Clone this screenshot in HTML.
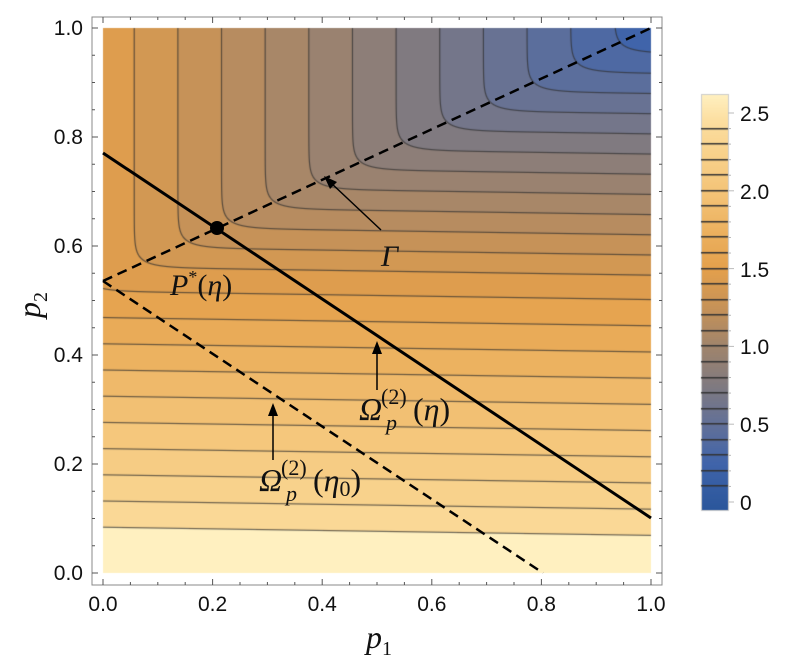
<!DOCTYPE html>
<html><head><meta charset="utf-8"><style>
body{margin:0;background:#fff;width:800px;height:672px;overflow:hidden;position:relative;font-family:"Liberation Sans",sans-serif}
canvas{position:absolute;left:0;top:0}
svg{position:absolute;left:0;top:0}
</style></head><body>
<canvas id="c" width="800" height="672"></canvas>
<svg width="800" height="672" xmlns="http://www.w3.org/2000/svg">
<g stroke="#888" fill="none" stroke-width="1">
<rect x="92" y="17" width="570" height="568"/>
</g>
<g id="ticks" stroke="#555" stroke-width="1"></g>
<g font-family="Liberation Sans, sans-serif" font-size="21" fill="#111">
<text x="103" y="611" text-anchor="middle">0.0</text>
<text x="212.6" y="611" text-anchor="middle">0.2</text>
<text x="322.2" y="611" text-anchor="middle">0.4</text>
<text x="431.8" y="611" text-anchor="middle">0.6</text>
<text x="541.4" y="611" text-anchor="middle">0.8</text>
<text x="651" y="611" text-anchor="middle">1.0</text>
<text x="83" y="580" text-anchor="end">0.0</text>
<text x="83" y="471" text-anchor="end">0.2</text>
<text x="83" y="362" text-anchor="end">0.4</text>
<text x="83" y="253" text-anchor="end">0.6</text>
<text x="83" y="144" text-anchor="end">0.8</text>
<text x="83" y="35" text-anchor="end">1.0</text>
<text x="740" y="121">2.5</text>
<text x="740" y="199">2.0</text>
<text x="740" y="277">1.5</text>
<text x="740" y="354">1.0</text>
<text x="740" y="432">0.5</text>
<text x="740" y="510">0</text>
</g>
<g font-family="Liberation Serif, serif" font-style="italic" fill="#111">
<text x="366" y="648" font-size="32">p<tspan font-size="20" dy="7" font-style="normal">1</tspan></text>
<text transform="translate(40,318) rotate(-90)" font-size="32">p<tspan font-size="20" dy="7" font-style="normal">2</tspan></text>
<text x="381" y="266" font-size="30">Γ</text>
<text x="170" y="295" font-size="30">P<tspan font-size="18" dy="-12" font-style="normal">*</tspan><tspan dy="12" font-style="normal">(</tspan>η<tspan font-style="normal">)</tspan></text>
<text x="359" y="420" font-size="32">Ω</text>
<text x="386" y="430" font-size="22">p</text>
<text x="381" y="404" font-size="22" font-style="normal">(2)</text>
<text x="413" y="420" font-size="32"><tspan font-style="normal">(</tspan>η<tspan font-style="normal">)</tspan></text>
<text x="259" y="491" font-size="32">Ω</text>
<text x="286" y="501" font-size="22">p</text>
<text x="281" y="475" font-size="22" font-style="normal">(2)</text>
<text x="313" y="491" font-size="32"><tspan font-style="normal">(</tspan>η<tspan font-size="22" dy="5" font-style="normal">0</tspan><tspan dy="-5" font-style="normal">)</tspan></text>
</g>
<g stroke="#000" fill="none">
<line x1="103" y1="153" x2="651" y2="518" stroke-width="3"/>
<line x1="103" y1="281" x2="651" y2="28" stroke-width="2.5" stroke-dasharray="10,6"/>
<line x1="103" y1="281" x2="543" y2="573" stroke-width="2.5" stroke-dasharray="10,6"/>
<line x1="377" y1="390" x2="377" y2="350" stroke-width="1.5"/>
<line x1="273" y1="460" x2="273" y2="412" stroke-width="1.5"/>
<line x1="381" y1="230" x2="330" y2="182" stroke-width="1.5"/>
</g>
<g fill="#000">
<polygon points="377,341 372,354 382,354"/>
<polygon points="273,403 268,416 278,416"/>
<polygon points="324,176 330,189 337,182"/>
<circle cx="217" cy="228" r="7"/>
</g>
</svg>
<script>
var X0=103,X1=651,Y0=573,Y1=28;
function G(p1,p2){
 var a=p2+0.015*p1, b=0.535+0.465*p1, s=0.015;
 var m=Math.min(a,b);
 var t=m - s*Math.log(Math.exp(-(a-m)/s)+Math.exp(-(b-m)/s));
 if(t<0.55) return 2.4-(t-0.084)*2.08;
 return 1.431-(t-0.55)*2.7;
}
var stops=[[-0.05,[42,86,155]],[0.25,[64,100,170]],[0.5,[98,112,152]],[0.75,[128,122,128]],[1.0,[160,132,108]],[1.25,[198,146,88]],[1.5,[228,160,76]],[1.75,[236,178,96]],[2.0,[244,196,120]],[2.25,[248,210,140]],[2.45,[252,222,160]],[2.62,[255,240,192]]];
function col(v){
 if(v<=stops[0][0])return stops[0][1];
 for(var i=1;i<stops.length;i++){if(v<=stops[i][0]){var a=stops[i-1],b=stops[i],f=(v-a[0])/(b[0]-a[0]);return [0,1,2].map(function(k){return a[1][k]+f*(b[1][k]-a[1][k])});}}
 return stops[stops.length-1][1];
}
function bandcol(v){
 if(v>=2.4)return [255,240,192];
 var lv=Math.floor(v*10); if(lv<0)lv=0;
 return col((lv+0.5)/10);
}
var c=document.getElementById('c').getContext('2d');
var W=X1-X0,H=Y0-Y1;
var img=c.createImageData(W,H);
for(var j=0;j<H;j++){var p2=(Y0-(Y1+j+0.5))/H;for(var i=0;i<W;i++){var p1=(i+0.5)/W;var v=G(p1,p2);
 var cc=bandcol(v);var o=(j*W+i)*4;img.data[o]=cc[0];img.data[o+1]=cc[1];img.data[o+2]=cc[2];img.data[o+3]=255;}}
for(var j=0;j<H;j++){var p2=(Y0-(Y1+j+0.5))/H;for(var i=0;i<W;i++){var p1=(i+0.5)/W;
 var v=G(p1,p2);var d=v*10-Math.round(v*10);
 var gx=(G(p1+1/W,p2)-G(p1-1/W,p2))*10/2, gy=(G(p1,p2+1/H)-G(p1,p2-1/H))*10/2;
 var g=Math.sqrt(gx*gx+gy*gy)+1e-9;var dist=Math.abs(d)/g;
 var r=Math.round(v*10); if(r<1||r>24)continue;
 if(dist<1.1){var a=Math.min(1,(1.1-dist))*0.7;var o=(j*W+i)*4;for(var k=0;k<3;k++)img.data[o+k]=img.data[o+k]*(1-a)+45*a;}}}
c.putImageData(img,X0,Y1);
var CB0=94,CB1=510;
for(var y=CB0;y<CB1;y++){var v=2.5-(y-113)/155.6;var cc=col(v);c.fillStyle='rgb('+cc.map(Math.round).join(',')+')';c.fillRect(701,y,27,1);}
c.strokeStyle='#ccc';c.strokeRect(701.5,94.5,27,416);
c.fillStyle='#333';
for(var l=1;l<=24;l++){var y=113+(2.5-l/10)*155.6;c.fillRect(701,Math.round(y)-1,27,1.5);}
var t=document.getElementById('ticks');var s='';
for(var i=0;i<=20;i++){var x=X0+i*W/20;var L=(i%4==0)?6:3;s+='<line x1="'+x+'" y1="585" x2="'+x+'" y2="'+(585-L)+'"/><line x1="'+x+'" y1="17" x2="'+x+'" y2="'+(17+L)+'"/>';
 var y=Y0-i*H/20;s+='<line x1="92" y1="'+y+'" x2="'+(92+L)+'" y2="'+y+'"/><line x1="662" y1="'+y+'" x2="'+(662-L)+'" y2="'+y+'"/>';}
for(var i=0;i<=25;i++){var y=113+(2.5-i/10)*155.6;s+='<line x1="728" y1="'+y+'" x2="'+(i%5==0?734:731)+'" y2="'+y+'" stroke="#bbb"/>';}
t.innerHTML=s;
</script>
</body></html>
